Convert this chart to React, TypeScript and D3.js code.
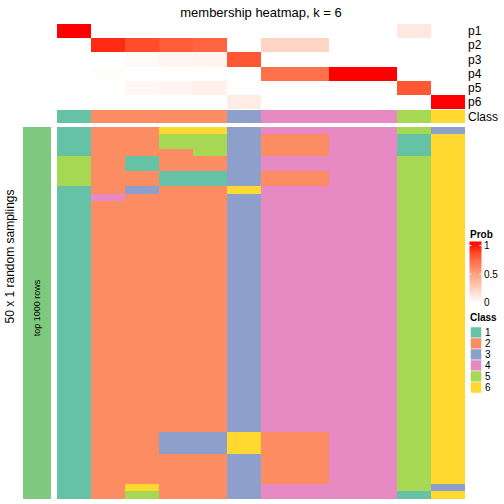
import React from "react";
import * as d3 from "d3";

const title = "membership heatmap, k = 6";
const probLabels = ["p1", "p2", "p3", "p4", "p5", "p6"];
const columns = ["c1", "c2", "c3", "c4", "c5", "c6", "c7", "c8", "c9", "c10", "c11", "c12"];

const p1 = [1, 0, 0, 0, 0, 0, 0, 0, 0, 0, 0.12, 0];
const p2 = [0, 0.95, 0.86, 0.8, 0.77, 0, 0.22, 0.22, 0, 0, 0, 0];
const p3 = [0, 0, 0.03, 0.05, 0.06, 0.82, 0, 0, 0, 0, 0, 0];
const p4 = [0, 0.01, 0, 0, 0, 0, 0.72, 0.72, 1, 1, 0, 0];
const p5 = [0, 0, 0.04, 0.06, 0.08, 0, 0, 0, 0, 0, 0.82, 0];
const p6 = [0, 0, 0, 0, 0, 0.1, 0, 0, 0, 0, 0, 1];
const probRows = [p1, p2, p3, p4, p5, p6];

const columnClass = [1, 2, 2, 2, 2, 3, 4, 4, 4, 4, 5, 6];

// one string per sampling (row), one digit (class) per column
const samplings = [
  "122663444453",
  "122553224416",
  "122553224416",
  "122253224416",
  "521223444456",
  "521223444456",
  "522113224456",
  "522113224456",
  "123226444456",
  "142223444456",
  "122223444456",
  "122223444456",
  "122223444456",
  "122223444456",
  "122223444456",
  "122223444456",
  "122223444456",
  "122223444456",
  "122223444456",
  "122223444456",
  "122223444456",
  "122223444456",
  "122223444456",
  "122223444456",
  "122223444456",
  "122223444456",
  "122223444456",
  "122223444456",
  "122223444456",
  "122223444456",
  "122223444456",
  "122223444456",
  "122223444456",
  "122223444456",
  "122223444456",
  "122223444456",
  "122223444456",
  "122223444456",
  "122223444456",
  "122223444456",
  "122223444456",
  "122336224456",
  "122336224456",
  "122336224456",
  "122223224456",
  "122223224456",
  "122223224456",
  "122223224456",
  "126223444453",
  "125223444416",
];

const classKeys = [1, 2, 3, 4, 5, 6];
const classColors = ["#66C2A5", "#FC8D62", "#8DA0CB", "#E78AC3", "#A6D854", "#FFD92F"];
const legendTicks = [1, 0.5, 0];

const FONT = "'Liberation Sans', Arial, Helvetica, sans-serif";

export default function App() {
  const x = d3.scaleBand<string>().domain(columns).range([57, 465]);
  const yProb = d3.scaleBand<string>().domain(probLabels).range([24, 109]);
  const classY0 = 110;
  const classY1 = 123.4;
  const rowIdx = samplings.map((_, i) => String(i));
  const yMain = d3.scaleBand<string>().domain(rowIdx).range([126.7, 498.7]);
  const probColor = d3.scaleLinear<string>().domain([0, 1]).range(["#FFFFFF", "#FF0000"]).interpolate(d3.interpolateLab).clamp(true);
  const classColor = d3.scaleOrdinal<number, string>().domain(classKeys).range(classColors);

  // legend gradient scale
  const legY = d3.scaleLinear().domain([0, 1]).range([302.5, 245.5]);
  const barTop = 241.5;
  const barBot = 303;
  const gradStops = d3.range(0, 11).map((i) => {
    const yy = barTop + (i / 10) * (barBot - barTop);
    const v = legY.invert(yy);
    return { off: i / 10, col: probColor(v) };
  });

  return (
    <svg width={504} height={504} style={{ position: "absolute", left: 0, top: 0, background: "#fff" }} fontFamily={FONT}>
      <defs>
        <linearGradient id="probGrad" x1="0" y1="0" x2="0" y2="1">
          {gradStops.map((s, i) => (
            <stop key={i} offset={s.off} stopColor={s.col} />
          ))}
        </linearGradient>
      </defs>
      <text x={261} y={17} textAnchor="middle" fontSize={13} fill="#000">{title}</text>

      <g shapeRendering="crispEdges">
        {probRows.map((row, ri) =>
          row.map((v, ci) => (
            <rect key={`p${ri}-${ci}`} x={x(columns[ci])} y={yProb(probLabels[ri])} width={x.bandwidth()} height={yProb.bandwidth()} fill={probColor(v)} />
          ))
        )}
        {columnClass.map((c, ci) => (
          <rect key={`cls${ci}`} x={x(columns[ci])} y={classY0} width={x.bandwidth()} height={classY1 - classY0} fill={classColor(c)} />
        ))}
        {samplings.map((s, ri) =>
          s.split("").map((ch, ci) => (
            <rect key={`m${ri}-${ci}`} x={x(columns[ci])} y={yMain(String(ri))} width={x.bandwidth()} height={yMain.bandwidth() + 0.3} fill={classColor(+ch)} />
          ))
        )}
        <rect x={22.7} y={126.7} width={28.3} height={372} fill="#7FC97F" />
      </g>

      {probLabels.map((p) => (
        <text key={p} x={468} y={(yProb(p) as number) + yProb.bandwidth() / 2} dy="0.35em" fontSize={12} fill="#000">{p}</text>
      ))}
      <text x={468} y={(classY0 + classY1) / 2} dy="0.35em" fontSize={12} fill="#000">Class</text>

      <text transform={`translate(14,256.5) rotate(-90)`} textAnchor="middle" fontSize={12} fill="#000">50 x 1 random samplings</text>
      <text transform={`translate(37,308) rotate(-90)`} textAnchor="middle" dy="0.35em" fontSize={9} fill="#000">top 1000 rows</text>

      {/* Prob legend */}
      <text x={470} y={237.5} fontSize={10} fontWeight="bold" fill="#000">Prob</text>
      <rect x={469.5} y={barTop} width={12} height={barBot - barTop} fill="url(#probGrad)" />
      {legendTicks.map((t) => (
        <g key={t}>
          {t > 0 && (
            <>
              <line x1={469.5} x2={471.5} y1={legY(t)} y2={legY(t)} stroke="#fff" strokeWidth={1} />
              <line x1={479.5} x2={481.5} y1={legY(t)} y2={legY(t)} stroke="#fff" strokeWidth={1} />
            </>
          )}
          <text x={484} y={legY(t)} dy="0.35em" fontSize={10} fill="#000">{t}</text>
        </g>
      ))}

      {/* Class legend */}
      <text x={470} y={321} fontSize={10} fontWeight="bold" fill="#000">Class</text>
      {classKeys.map((k, i) => (
        <g key={k}>
          <rect x={470.5} y={327 + i * 11} width={11} height={11} fill={classColor(k)} stroke="#fff" strokeWidth={0.5} />
          <text x={485} y={327 + i * 11 + 5.5} dy="0.35em" fontSize={10} fill="#000">{k}</text>
        </g>
      ))}
    </svg>
  );
}
